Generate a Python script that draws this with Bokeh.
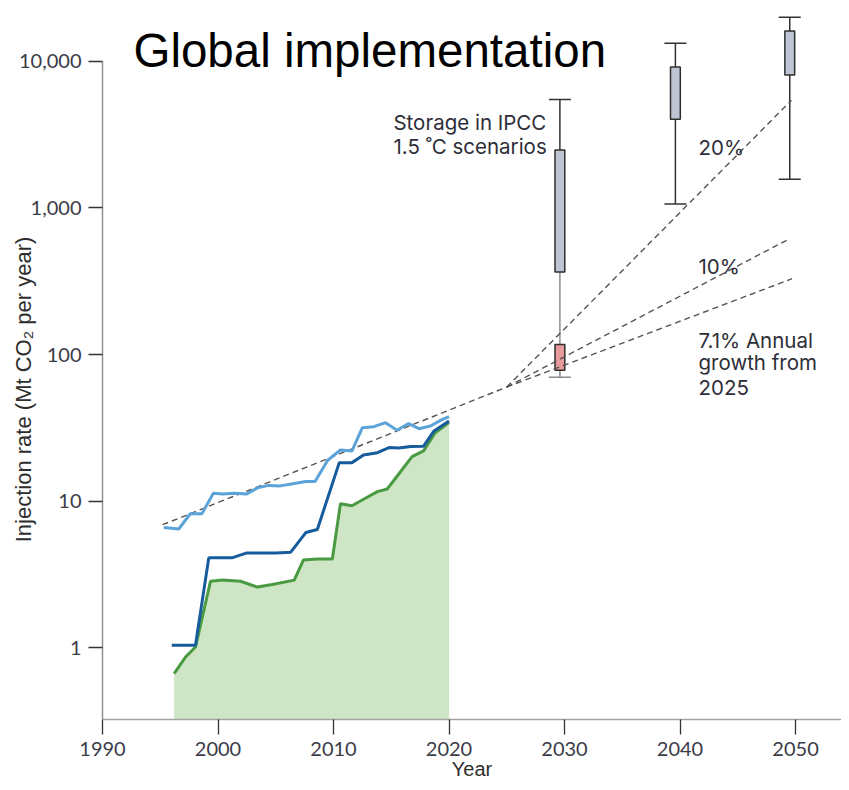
from bokeh.plotting import figure
from bokeh.models import FixedTicker, NumeralTickFormatter, Label, Range1d
from bokeh.embed import file_html
from bokeh.resources import INLINE

# ---------------- data ----------------
title_text = "Global implementation"
x_label = "Year"
y_label = "Injection rate (Mt CO\u2082 per year)"

x_ticks = [1990, 2000, 2010, 2020, 2030, 2040, 2050]
y_ticks = [1, 10, 100, 1000, 10000]

light_years = [1995.3, 1996.6, 1997.6, 1998.6, 1999.6, 2000.4, 2001.4, 2002.5, 2003.5,
               2004.4, 2005.4, 2006.6, 2007.6, 2008.4, 2009.5, 2010.6, 2011.6, 2012.5,
               2013.5, 2014.5, 2015.5, 2016.5, 2017.4, 2018.4, 2019.3, 2020.0]
light_vals = [6.6, 6.45, 8.2, 8.2, 11.3, 11.2, 11.3, 11.2, 12.4, 12.8, 12.7, 13.2, 13.6,
              13.6, 19.0, 22.3, 22.0, 31.7, 32.2, 34.3, 30.4, 33.8, 31.2, 32.5, 35.7, 37.7]

dark_years = [1996.0, 1998.05, 1999.2, 2001.2, 2002.5, 2003.8, 2005.0, 2006.3, 2007.6,
              2008.6, 2010.5, 2011.6, 2012.6, 2013.8, 2014.8, 2015.65, 2016.7, 2017.8,
              2018.7, 2020.0]
dark_vals = [1.04, 1.04, 4.1, 4.1, 4.43, 4.43, 4.43, 4.48, 6.1, 6.4, 18.3, 18.3, 20.6,
             21.4, 23.2, 23.0, 23.6, 23.7, 30.1, 35.2]

green_years = [1996.2, 1997.2, 1998.05, 1999.35, 2000.4, 2001.95, 2003.4, 2004.7, 2006.6,
               2007.4, 2008.6, 2009.9, 2010.6, 2011.6, 2012.6, 2013.8, 2014.65, 2015.65,
               2016.8, 2017.8, 2018.8, 2020.0]
green_vals = [0.665, 0.865, 1.01, 2.84, 2.9, 2.84, 2.59, 2.7, 2.89, 3.97, 4.03, 4.03, 9.6,
              9.3, 10.3, 11.6, 12.1, 15.3, 20.1, 22.0, 29.3, 34.3]

trend_years = [1995.2, 2025.0]
trend_vals = [6.9, 60.0]

proj_start_year = 2025.0
proj_start_val = 60.0
proj_end_years = [2049.65, 2049.3, 2049.7]
proj_end_vals = [5430, 606, 329]

box_years = [2029.6, 2039.6, 2049.5]
box_lo = [70, 1065, 1567]
box_q1 = [365, 4030, 8070]
box_q3 = [2480, 9150, 16100]
box_hi = [5490, 13300, 20000]

near_year = [2029.6]
near_lo = [78]
near_hi = [117]

storage_lines = ["Storage in IPCC", "1.5 \u02daC scenarios"]
growth_labels = ["20%", "10%"]
annual_lines = ["7.1% Annual", "growth from", "2025"]

# ---------------- styling ----------------
TXT = "#2e2e38"
TICKF = "Lato"
ANNF = "Inter"
whisker_lower_colors = ["#8c8c8c", "#333333", "#333333"]
NBSP_PAD = "\u00a0" * 8   # pushes the centred axis title down along the axis

y_lo = 10 ** -0.49
y_hi = 10 ** 4.347

p = figure(width=841, height=782,
           x_range=Range1d(1990, 2053.98), y_range=Range1d(y_lo, y_hi),
           y_axis_type="log", output_backend="svg", toolbar_location=None,
           min_border_left=102, min_border_right=0, min_border_top=10,
           min_border_bottom=61)
p.outline_line_color = None
p.xgrid.visible = False
p.ygrid.visible = False
p.background_fill_color = "white"

# x axis
xa = p.xaxis[0]
xa.ticker = FixedTicker(ticks=x_ticks)
xa.axis_line_color = "#a3a3a3"
xa.axis_line_width = 1.5
xa.major_tick_line_color = "#333333"
xa.major_tick_line_width = 1.3
xa.major_tick_out = 15
xa.major_tick_in = 0
xa.minor_tick_line_color = None
xa.major_label_standoff = 7
xa.major_label_text_font = TICKF
xa.major_label_text_font_size = "20px"
xa.major_label_text_color = "#3c3c48"
xa.axis_label = x_label
xa.axis_label_text_font = "Liberation Sans"
xa.axis_label_text_font_style = "normal"
xa.axis_label_text_font_size = "20px"
xa.axis_label_text_color = "#2e2e2e"
xa.axis_label_standoff = -1

# y axis
ya = p.yaxis[0]
ya.ticker = FixedTicker(ticks=y_ticks)
ya.formatter = NumeralTickFormatter(format="0,0")
ya.bounds = (y_lo, 10000)
ya.axis_line_color = "#8f8f8f"
ya.axis_line_width = 1.5
ya.major_tick_line_color = "#333333"
ya.major_tick_line_width = 1.3
ya.major_tick_out = 14
ya.major_tick_in = 0
ya.minor_tick_line_color = None
ya.major_label_standoff = 7
ya.major_label_text_font = TICKF
ya.major_label_text_font_size = "20px"
ya.major_label_text_color = "#3c3c48"
ya.axis_label = y_label + NBSP_PAD
ya.axis_label_text_font = "Liberation Sans"
ya.axis_label_text_font_style = "normal"
ya.axis_label_text_font_size = "22px"
ya.axis_label_text_color = "#2e2e2e"
ya.axis_label_standoff = -20

# historical data
p.varea(x=green_years, y1=0.1, y2=green_vals, fill_color="#cfe6c6")
p.line(trend_years, trend_vals, line_color="#555555", line_width=1.4, line_dash="6 4")
p.line(green_years, green_vals, line_color="#4a9a42", line_width=3)
p.line(dark_years, dark_vals, line_color="#165c9c", line_width=3)
p.line(light_years, light_vals, line_color="#5ba3d8", line_width=3)

# IPCC boxes
p.segment(x0=box_years, y0=box_q3, x1=box_years, y1=box_hi, line_color="#333333", line_width=1.5)
p.segment(x0=box_years, y0=box_lo, x1=box_years, y1=box_q1, line_color=whisker_lower_colors, line_width=1.5)
p.scatter(x=box_years, y=box_hi, marker="dash", size=22, line_color="#333333", line_width=1.5)
p.scatter(x=box_years, y=box_lo, marker="dash", size=22, line_color=whisker_lower_colors, line_width=1.5)
p.vbar(x=box_years, bottom=box_q1, top=box_q3, width=0.85, fill_color="#bec4d4",
       line_color="#2e2e2e", line_width=1.5)
p.vbar(x=near_year, bottom=near_lo, top=near_hi, width=0.85, fill_color="#e89b9b",
       line_color="#2e2e2e", line_width=1.5)

# projections
n = len(proj_end_years)
p.segment(x0=[proj_start_year] * n, y0=[proj_start_val] * n, x1=proj_end_years, y1=proj_end_vals,
          line_color="#555555", line_width=1.4, line_dash="6 4")

# ---------------- texts ----------------
def lab(x, y, text, size, font=ANNF, color=TXT, align="left", baseline="alphabetic"):
    p.add_layout(Label(x=x, y=y, text=text, text_font=font, text_font_size=size,
                       text_color=color, text_align=align, text_baseline=baseline))

lab(1992.68, 11880, title_text, "47.5px", font="Liberation Sans", color="black")
lab(2015.19, 3805, storage_lines[0], "20.5px")
lab(2015.19, 2614, storage_lines[1], "20.5px")
lab(2041.6, 2600, growth_labels[0], "20.5px")
lab(2041.6, 399, growth_labels[1], "20.5px")
lab(2041.6, 125, annual_lines[0], "20.5px")
lab(2041.6, 87.8, annual_lines[1], "20.5px")
lab(2041.6, 59.3, annual_lines[2], "20.5px")

open("out.html", "w").write(file_html(p, INLINE))
